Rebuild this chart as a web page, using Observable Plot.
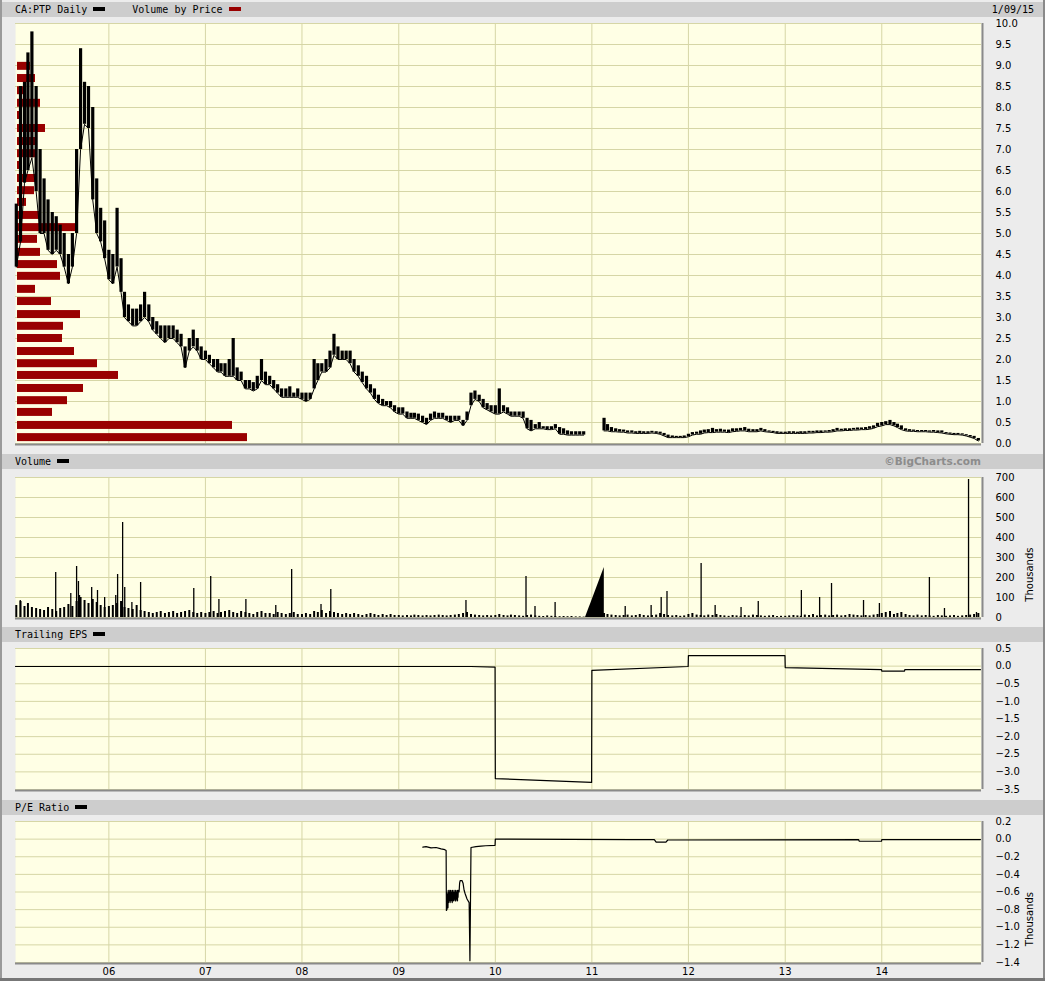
<!DOCTYPE html>
<html><head><meta charset="utf-8">
<script src="https://cdn.jsdelivr.net/npm/d3@7"></script>
<script src="https://cdn.jsdelivr.net/npm/@observablehq/plot@0.6"></script>
<style>
html,body{margin:0;padding:0;background:#ececec;}
#chart{position:relative;width:1045px;height:981px;background:#ececec;overflow:hidden;}
.hbar{position:absolute;left:2px;right:2px;height:15px;background:#cdcdcd;font-family:"DejaVu Sans Mono",monospace;font-size:10px;line-height:15px;color:#000;}
.hbar .lab{position:absolute;left:13px;top:0;white-space:nowrap;}
.hbar .rt{position:absolute;right:9px;top:0;white-space:nowrap;}
.hbar .bc{position:absolute;right:62px;top:0;white-space:nowrap;font-family:"DejaVu Sans",sans-serif;font-weight:bold;font-size:10.5px;color:#8c8c8c;}
.sw{display:inline-block;width:12px;height:4px;vertical-align:middle;margin-left:6px;position:relative;top:-1px;}
.edge{position:absolute;}
</style></head><body><div id="chart"></div>
<script>
// ---------- DATA ----------
// price, semi-monthly (1st and 16th of each month) from 2005-01-01 to 2015-01-01 : high / low
const priceHi = [
  null,5.7,8.5,8.6,9.3,9.8,8.5,7.0,6.3,5.8,5.5,5.4,5.2,5.0,4.5,5.0,7.0,9.4,8.6,8.5,8.0,6.3,5.6,5.3,       // 2005
  4.6,4.5,5.6,4.4,3.6,3.3,3.2,3.2,3.3,3.6,3.3,3.0,2.9,2.8,2.8,2.8,2.8,2.7,2.6,2.3,2.5,2.7,2.5,2.3,       // 2006
  2.2,2.1,2.0,2.0,1.9,1.9,2.0,2.5,1.8,1.7,1.5,1.5,1.45,1.6,2.0,1.7,1.6,1.5,1.4,1.3,1.3,1.35,1.2,1.3,     // 2007
  1.2,1.2,1.2,2.0,1.9,1.9,2.0,2.2,2.6,2.3,2.2,2.2,2.2,2.0,1.85,1.7,1.6,1.4,1.3,1.15,1.05,1.0,1.0,0.9,    // 2008
  0.85,0.85,0.75,0.72,0.72,0.7,0.65,0.6,0.7,0.75,0.72,0.72,0.65,0.65,0.65,0.65,0.55,0.75,1.2,1.25,1.15,1.05,0.95,0.9, // 2009
  0.9,1.3,0.9,0.85,0.75,0.75,0.75,0.75,0.6,0.55,0.45,0.5,0.4,0.4,0.4,0.45,0.38,0.35,0.3,0.28,0.28,0.28,0.28,null, // 2010
  null,null,null,0.6,0.45,0.38,0.35,0.33,0.32,0.3,0.3,0.28,0.29,0.28,0.28,0.29,0.28,0.27,0.24,0.2,0.18,0.17,0.17,0.18, // 2011
  0.22,0.26,0.27,0.3,0.32,0.33,0.36,0.33,0.34,0.32,0.32,0.35,0.35,0.36,0.38,0.34,0.33,0.33,0.36,0.33,0.3,0.29,0.28,0.27, // 2012
  0.27,0.28,0.28,0.27,0.28,0.28,0.29,0.29,0.3,0.3,0.3,0.31,0.33,0.36,0.34,0.35,0.35,0.36,0.37,0.37,0.38,0.4,0.42,0.48,   // 2013
  0.5,0.52,0.55,0.5,0.46,0.42,0.35,0.33,0.32,0.31,0.31,0.31,0.3,0.31,0.3,0.3,0.26,0.25,0.24,0.24,0.23,0.21,0.19,0.17,    // 2014
  0.12                                                                                                    // 2015
];
const priceLo = [
  null,4.2,4.8,6.2,6.5,6.8,6.0,5.0,5.0,4.6,4.5,4.6,4.5,4.2,3.8,4.2,5.0,7.0,7.6,7.5,5.8,5.0,4.8,4.4,
  3.9,3.8,4.2,3.6,3.0,2.9,2.8,2.8,2.9,3.0,2.9,2.7,2.6,2.5,2.4,2.5,2.5,2.4,2.3,1.8,2.2,2.3,2.2,2.0,
  2.0,1.9,1.8,1.7,1.7,1.6,1.6,1.6,1.5,1.5,1.3,1.3,1.25,1.3,1.5,1.4,1.4,1.3,1.2,1.1,1.1,1.1,1.1,1.1,
  1.05,1.0,1.05,1.3,1.5,1.7,1.7,1.8,2.1,2.0,2.0,2.0,1.9,1.7,1.6,1.45,1.3,1.2,1.05,0.95,0.9,0.9,0.85,0.75,
  0.7,0.7,0.6,0.6,0.6,0.55,0.5,0.45,0.55,0.6,0.6,0.6,0.55,0.5,0.55,0.55,0.42,0.55,0.9,1.05,1.0,0.85,0.8,0.75,
  0.7,0.7,0.75,0.7,0.65,0.65,0.65,0.6,0.35,0.3,0.35,0.35,0.35,0.33,0.33,0.35,0.22,0.22,0.2,0.2,0.2,0.2,0.2,null,
  null,null,null,0.3,0.3,0.28,0.28,0.27,0.27,0.25,0.25,0.24,0.24,0.24,0.24,0.25,0.24,0.22,0.18,0.14,0.14,0.14,0.14,0.14,
  0.16,0.2,0.22,0.22,0.25,0.26,0.26,0.27,0.27,0.27,0.26,0.28,0.29,0.3,0.3,0.28,0.28,0.28,0.3,0.28,0.27,0.26,0.24,0.24,
  0.24,0.24,0.24,0.24,0.24,0.24,0.25,0.25,0.26,0.26,0.27,0.27,0.28,0.3,0.3,0.31,0.31,0.32,0.32,0.33,0.33,0.34,0.36,0.4,
  0.42,0.45,0.45,0.42,0.38,0.33,0.3,0.29,0.29,0.28,0.28,0.28,0.27,0.27,0.26,0.25,0.23,0.22,0.21,0.21,0.2,0.18,0.15,0.12,
  0.06
];
// volume (thousands), typical daily level per half month, same dates as prices
const volBase = [
  null,60,80,55,70,50,45,40,35,50,40,30,45,50,65,55,80,100,85,70,90,75,60,50,
  55,60,70,80,50,45,40,60,35,30,25,20,25,30,20,25,30,20,25,30,35,25,20,25,
  20,25,30,20,25,30,35,25,20,30,25,20,15,25,30,20,20,15,25,20,15,20,25,15,
  15,20,15,30,25,35,20,30,25,20,15,20,15,20,15,10,15,20,15,10,15,10,15,10,
  10,8,10,8,12,10,8,10,8,10,12,10,8,10,12,15,20,25,15,12,10,8,10,8,
  10,15,10,8,12,10,8,6,10,12,8,6,5,8,6,5,4,5,4,5,3,3,2,null,
  null,null,null,20,15,12,10,8,10,12,8,10,15,10,8,10,12,20,15,10,8,10,6,8,
  15,20,12,10,8,12,10,15,10,8,6,10,8,6,10,8,12,10,8,6,8,10,5,6,
  6,8,10,8,6,12,10,15,8,10,12,8,10,12,8,10,15,12,10,8,10,8,12,15,
  20,25,30,15,20,25,15,10,8,12,8,10,8,6,10,8,6,8,10,6,8,10,12,15,
  20
];
// volume spikes (thousands)
const spikeDates = ["2005-01-31","2005-06-14","2005-08-10","2005-09-01","2005-09-08","2005-09-12","2005-10-28","2005-11-19","2005-12-16",
  "2006-01-27","2006-02-03","2006-02-22","2006-03-02","2006-03-29","2006-05-01","2006-11-18","2007-01-21","2007-02-21","2007-06-03",
  "2007-09-24","2007-11-23","2008-03-13","2008-04-19","2009-09-12","2010-04-27","2010-05-31","2010-08-15","2011-05-07","2011-08-13",
  "2011-09-20","2011-10-12","2012-02-18","2012-04-11","2012-07-18","2012-09-21","2013-03-03","2013-05-11","2013-06-25","2013-10-24",
  "2013-12-23","2014-06-30","2014-08-26","2014-11-25","2014-12-25"];
const spikeValues = [85,225,120,255,180,110,150,135,100,
  110,215,475,150,75,175,145,205,90,90,
  60,240,65,140,85,205,55,75,55,60,
  100,130,270,60,50,80,135,100,170,85,
  70,200,45,690,25];
// no-trading gap, volume interpolated across it
const gapDates = ["2010-12-08","2011-02-17"];
const gapValues = [0,250];
// volume by price: price level and volume (millions of shares)
const vbpLevels = [0.14,0.43,0.74,1.02,1.31,1.62,1.90,2.19,2.50,2.79,3.07,3.38,3.67,3.98,4.26,4.55,4.86,5.14,5.43,5.74,6.02,6.31,6.62,6.90,7.19,7.50,7.81,8.10,8.40,8.69,8.98];
const vbpVolumes = [23.2,21.7,3.7,5.2,6.8,10.3,8.2,5.9,4.7,4.8,6.5,3.6,2.0,4.5,4.2,2.5,2.2,6.0,2.5,1.1,1.9,2.2,0.5,2.1,2.1,3.0,0.7,2.5,1.0,2.0,1.5];
// trailing EPS
const epsDates = ["2005-01-13","2009-10-01","2009-12-31","2010-01-01","2010-12-31","2011-01-01","2011-12-31","2012-01-01","2012-12-31","2013-01-01","2013-12-31","2014-01-01","2014-03-28","2014-03-29","2015-01-09"];
const epsValues = [-0.01,-0.01,-0.03,-3.19,-3.30,-0.12,-0.01,0.30,0.30,-0.04,-0.10,-0.14,-0.14,-0.10,-0.10];
// P/E ratio (thousands)
const peDates = ["2009-04-02","2009-04-14","2009-05-03","2009-05-22","2009-06-10","2009-06-24","2009-06-29","2009-06-30",
  "2009-07-01","2009-07-02","2009-07-03","2009-07-06","2009-07-07","2009-07-08","2009-07-09","2009-07-10","2009-07-13","2009-07-14",
  "2009-07-15","2009-07-16","2009-07-17","2009-07-20","2009-07-21","2009-07-22","2009-07-23","2009-07-24","2009-07-27","2009-07-28",
  "2009-07-29","2009-07-30","2009-07-31","2009-08-03","2009-08-04","2009-08-05","2009-08-06","2009-08-07","2009-08-10","2009-08-11",
  "2009-08-12","2009-08-13","2009-08-14","2009-08-17","2009-08-19","2009-08-21","2009-08-28","2009-09-01","2009-09-05","2009-09-09",
  "2009-09-16","2009-09-24","2009-09-27","2009-10-01",
  "2009-10-20","2009-11-08","2009-11-26","2009-12-31","2010-01-01","2011-06-01","2011-08-25","2011-09-01","2011-10-08","2011-10-15",
  "2013-10-05","2013-10-08","2013-12-31","2014-01-01","2015-01-09"];
const peValues = [-0.09,-0.085,-0.10,-0.095,-0.11,-0.12,-0.13,-0.81,
  -0.60,-0.80,-0.62,-0.78,-0.58,-0.72,-0.60,-0.70,-0.58,-0.72,
  -0.60,-0.70,-0.58,-0.70,-0.60,-0.72,-0.58,-0.70,-0.60,-0.70,
  -0.58,-0.68,-0.60,-0.70,-0.58,-0.70,-0.60,-0.68,-0.58,-0.70,
  -0.60,-0.66,-0.58,-0.60,-0.50,-0.47,-0.47,-0.50,-0.58,-0.62,
  -0.68,-0.72,-1.38,-0.095,
  -0.085,-0.08,-0.075,-0.07,0.0,-0.005,-0.005,-0.035,-0.035,-0.01,
  -0.005,-0.024,-0.024,-0.005,-0.005];
// axes
const priceTicks = d3.range(0, 10.01, 0.5);
const volTicks = [0,100,200,300,400,500,600,700];
const epsTicks = [0.5,0,-0.5,-1,-1.5,-2,-2.5,-3,-3.5];
const peTicks = [0.2,0,-0.2,-0.4,-0.6,-0.8,-1.0,-1.2,-1.4];
const yearLabels = ["2006","2007","2008","2009","2010","2011","2012","2013","2014"];

// ---------- BUILD ----------
const chart = document.getElementById("chart");
const P = d3.utcParse("%Y-%m-%d");
const halfMonth = i => new Date(Date.UTC(2005 + Math.floor(i / 24), Math.floor((i % 24) / 2), (i % 2) ? 16 : 1));
const price = priceHi.map((h, i) => ({date: halfMonth(i), hi: h, lo: priceLo[i]}));
const vol = volBase.map((v, i) => ({date: halfMonth(i), v}));
const spikes = spikeDates.map((d, i) => ({date: P(d), v: spikeValues[i]}));
const gap = gapDates.map((d, i) => ({date: P(d), v: gapValues[i]}));
const vbp = vbpLevels.map((p, i) => ({p, v: vbpVolumes[i]}));
const eps = epsDates.map((d, i) => ({date: P(d), v: epsValues[i]}));
const pe = peDates.map((d, i) => ({date: P(d), v: peValues[i]}));
const years = yearLabels.map(y => P(y + "-01-01"));

const X0 = P("2005-01-13"), X1 = P("2015-01-13");
const BG = "#ffffe5", GRID = "#d6d6a6", EDGE = "#8a8a8a";
const style = {fontFamily: "DejaVu Sans, sans-serif", fontSize: "10px", background: "transparent", color: "#000", overflow: "visible"};

function place(svg, top) {
  svg.style.position = "absolute"; svg.style.left = "0px"; svg.style.top = top + "px";
  chart.appendChild(svg);
}
function head(top, label, color, extra) {
  const d = document.createElement("div");
  d.className = "hbar"; d.style.top = top + "px";
  d.innerHTML = `<span class="lab">${label}<span class="sw" style="background:${color}"></span>${extra || ""}</span>`;
  chart.appendChild(d);
  return d;
}
function panel({top, h, domain, ticks, fmt, marks = [], xAxis = false, thousands = false}) {
  const mt = 8, mb = xAxis ? 24 : 8;
  const svg = Plot.plot({
    width: 1045, height: h + mt + mb,
    marginLeft: 15, marginRight: 64, marginTop: mt, marginBottom: mb,
    style,
    x: {type: "utc", domain: [X0, X1], axis: null},
    y: {domain, axis: null},
    marks: [
      Plot.frame({fill: BG, stroke: "#f4f4e8"}),
      Plot.ruleY(ticks, {stroke: GRID}),
      Plot.ruleX(years, {stroke: GRID}),
      ...marks,
      Plot.ruleY([domain[0]], {stroke: EDGE, strokeWidth: 2, dy: 1}),
      Plot.ruleX([X1], {stroke: EDGE, strokeWidth: 2, dx: 1}),
      Plot.axisY(ticks, {anchor: "right", tickSize: 0, tickPadding: 14, tickFormat: fmt, label: null, fontSize: 10}),
      xAxis ? Plot.axisX(years, {anchor: "bottom", tickSize: 0, tickPadding: 5, tickFormat: d3.utcFormat("%y"), label: null, fontSize: 10}) : null,
      thousands ? Plot.text(["Thousands"], {frameAnchor: "right", dx: 48, rotate: -90, fontSize: 10}) : null
    ]
  });
  place(svg, top - mt);
}

// headers
head(2, "CA:PTP Daily", "#000",
  `<span style="margin-left:27px">Volume by Price</span><span class="sw" style="background:#990000"></span>`);
{
  const d = document.querySelector(".hbar");
  const r = document.createElement("span"); r.className = "rt"; r.textContent = "1/09/15"; d.appendChild(r);
}
const vh = head(454, "Volume", "#000");
{ const r = document.createElement("span"); r.className = "bc"; r.textContent = "\u00A9BigCharts.com"; vh.appendChild(r); }
head(627, "Trailing EPS", "#000");
head(800, "P/E Ratio", "#000");

// price panel background + axis
panel({top: 23, h: 420, domain: [0, 10], ticks: priceTicks, fmt: d3.format(".1f")});
// volume by price bars
place(Plot.plot({
  width: 1045, height: 436, marginLeft: 15, marginRight: 64, marginTop: 8, marginBottom: 8,
  style, x: {domain: [0, 96.6], axis: null}, y: {domain: [0, 10], axis: null},
  marks: [Plot.rect(vbp, {x1: 0, x2: "v", y1: d => d.p - 0.095, y2: d => d.p + 0.095, fill: "#990000", insetLeft: 2})]
}), 15);
// price bars (high-low)
place(Plot.plot({
  width: 1045, height: 436, marginLeft: 15, marginRight: 64, marginTop: 8, marginBottom: 8,
  style, x: {type: "utc", domain: [X0, X1], axis: null}, y: {domain: [0, 10], axis: null},
  marks: [
    Plot.ruleX(price, {x: "date", y1: "lo", y2: "hi", stroke: "#000", strokeWidth: 3.2}),
    Plot.line(price, {x: "date", y: "lo", stroke: "#000", strokeWidth: 1})
  ]
}), 15);

panel({top: 477, h: 140, domain: [0, 700], ticks: volTicks, fmt: d3.format("d"), thousands: true, marks: [
  Plot.ruleX(vol, {x: "date", y1: 0, y2: "v", stroke: "#000", strokeWidth: 2}),
  Plot.areaY(gap, {x: "date", y: "v", fill: "#000"}),
  Plot.ruleX(spikes, {x: "date", y1: 0, y2: "v", stroke: "#000", strokeWidth: 1.3})
]});
panel({top: 648, h: 141, domain: [-3.5, 0.5], ticks: epsTicks, fmt: d3.format(".1f"), marks: [
  Plot.line(eps, {x: "date", y: "v", stroke: "#000", strokeWidth: 1.2})
]});
panel({top: 821, h: 141, domain: [-1.4, 0.2], ticks: peTicks, fmt: d3.format(".1f"), xAxis: true, thousands: true, marks: [
  Plot.line(pe, {x: "date", y: "v", stroke: "#000", strokeWidth: 1.2})
]});

// outer border
[["left:0;top:0;width:2px;height:981px;background:#9a9a9a"],
 ["left:1043px;top:0;width:2px;height:981px;background:#8a8a8a"],
 ["left:0;top:978px;width:1045px;height:3px;background:#777"]].forEach(([css]) => {
  const e = document.createElement("div"); e.className = "edge"; e.style.cssText = css; chart.appendChild(e);
});
</script></body></html>
